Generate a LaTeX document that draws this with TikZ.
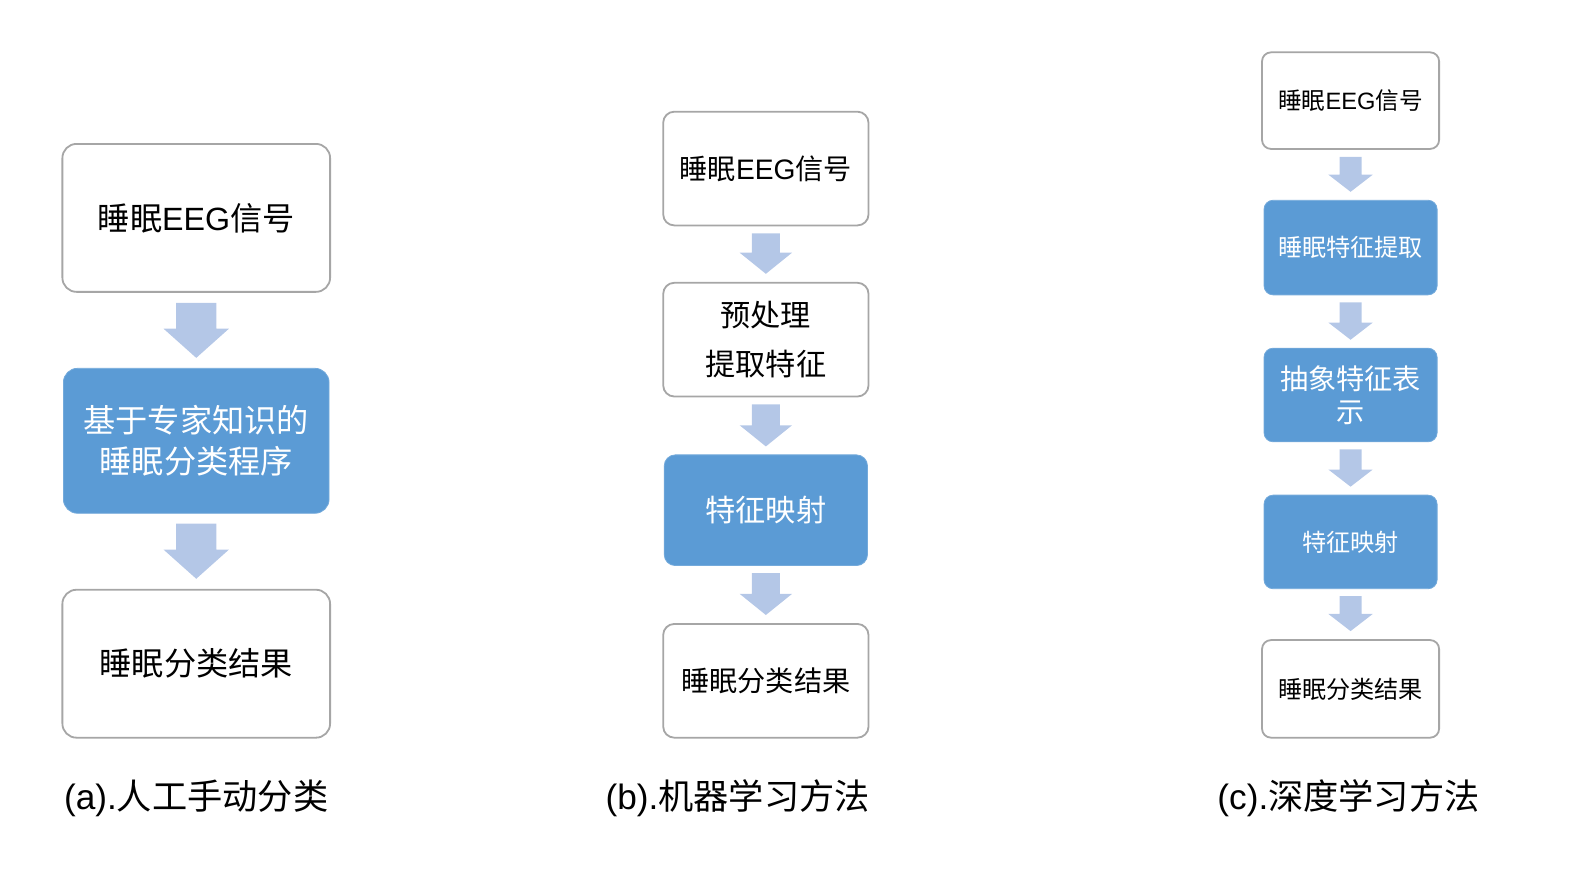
\documentclass[tikz,border=0pt]{standalone}
\usepackage{fontspec}
\setmainfont{Liberation Sans}
\newfontfamily\cjk{Noto Sans CJK SC}
\newcommand\zh[1]{{\cjk #1}}
\usetikzlibrary{calc}
\definecolor{boxline}{HTML}{A6A6A6}
\definecolor{boxblue}{HTML}{5B9BD5}
\definecolor{arrowblue}{HTML}{B4C7E7}
\tikzset{
  plainbox/.style={draw=boxline, line width=1.8pt, fill=white, align=center, inner sep=0pt},
  bluebox/.style={fill=boxblue, draw=boxblue!85!white, line width=0.8pt, text=white, align=center, inner sep=0pt},
  caption/.style={inner sep=0pt, font=\fontsize{35}{40}\selectfont},
}
% block arrow from the bottom of #1 to the top of #2:
% #3 half shaft width, #4 half head width, #5 head length, #6 top gap, #7 bottom gap
\newcommand\fatarrow[7]{%
  \fill[arrowblue]
    ($(#1.south)+(-#3,#6)$) -- ($(#2.north)+(-#3,-#7-#5)$) -- ($(#2.north)+(-#4,-#7-#5)$)
    -- ($(#2.north)+(0,-#7)$)
    -- ($(#2.north)+(#4,-#7-#5)$) -- ($(#2.north)+(#3,-#7-#5)$) -- ($(#1.south)+(#3,#6)$) -- cycle;}
\begin{document}
\begin{tikzpicture}[x=1pt, y=-1pt]
\useasboundingbox (0,0) rectangle (1568,880);

% (a) manual scoring
\begin{scope}[font=\fontsize{32}{40}\selectfont]
\node[plainbox, rounded corners=14pt, minimum width=266pt, minimum height=147pt] (a1) at (195,216.5) {\zh{睡眠}EEG\zh{信号}};
\node[bluebox, rounded corners=14pt, minimum width=264pt, minimum height=144pt] (a2) at (195,438) {\zh{基于专家知识的}\\\zh{睡眠分类程序}};
\node[plainbox, rounded corners=14pt, minimum width=266pt, minimum height=147pt] (a3) at (195,659.5) {\zh{睡眠分类结果}};
\end{scope}
\fatarrow{a1}{a2}{20}{32.5}{29}{10}{10}
\fatarrow{a2}{a3}{20}{32.5}{29}{10}{10}
\node[caption] (capa) at (195,793) {(a).\zh{人工手动分类}};

% (b) machine learning
\node[plainbox, rounded corners=11pt, minimum width=204pt, minimum height=113pt, font=\fontsize{28}{34}\selectfont] (b1) at (761,167.5) {\zh{睡眠}EEG\zh{信号}};
\node[plainbox, rounded corners=11pt, minimum width=204pt, minimum height=113pt, font=\fontsize{30}{49}\selectfont] (b2) at (761,337.5) {\zh{预处理}\\\zh{提取特征}};
\node[bluebox, rounded corners=11pt, minimum width=202pt, minimum height=110pt, font=\fontsize{30}{36}\selectfont] (b3) at (761,507) {\zh{特征映射}};
\node[plainbox, rounded corners=11pt, minimum width=204pt, minimum height=113pt, font=\fontsize{28}{34}\selectfont] (b4) at (761,676.5) {\zh{睡眠分类结果}};
\fatarrow{b1}{b2}{14}{26}{21}{7}{8}
\fatarrow{b2}{b3}{14}{26}{21}{7}{8}
\fatarrow{b3}{b4}{14}{26}{21}{7}{8}
\node[caption] (capb) at (733,793) {(b).\zh{机器学习方法}};

% (c) deep learning
\node[plainbox, rounded corners=9pt, minimum width=176pt, minimum height=96pt, font=\fontsize{23.5}{28}\selectfont] (c1) at (1342,100) {\zh{睡眠}EEG\zh{信号}};
\node[bluebox, rounded corners=9pt, minimum width=172pt, minimum height=94pt, font=\fontsize{24}{28}\selectfont] (c2) at (1342,246) {\zh{睡眠特征提取}};
\node[bluebox, rounded corners=9pt, minimum width=172pt, minimum height=93pt, font=\fontsize{28}{33}\selectfont] (c3) at (1342,392.5) {\zh{抽象特征表}\\\zh{示}};
\node[bluebox, rounded corners=9pt, minimum width=172pt, minimum height=93pt, font=\fontsize{24}{28}\selectfont] (c4) at (1342,538.5) {\zh{特征映射}};
\node[plainbox, rounded corners=9pt, minimum width=176pt, minimum height=97pt, font=\fontsize{24}{28}\selectfont] (c5) at (1342,684.5) {\zh{睡眠分类结果}};
\fatarrow{c1}{c2}{11}{22}{17}{7}{8}
\fatarrow{c2}{c3}{11}{22}{17}{7}{8}
\fatarrow{c3}{c4}{11}{22}{17}{7}{8}
\fatarrow{c4}{c5}{11}{22}{17}{7}{8}
\node[caption] (capc) at (1340,793) {(c).\zh{深度学习方法}};
\end{tikzpicture}
\end{document}
